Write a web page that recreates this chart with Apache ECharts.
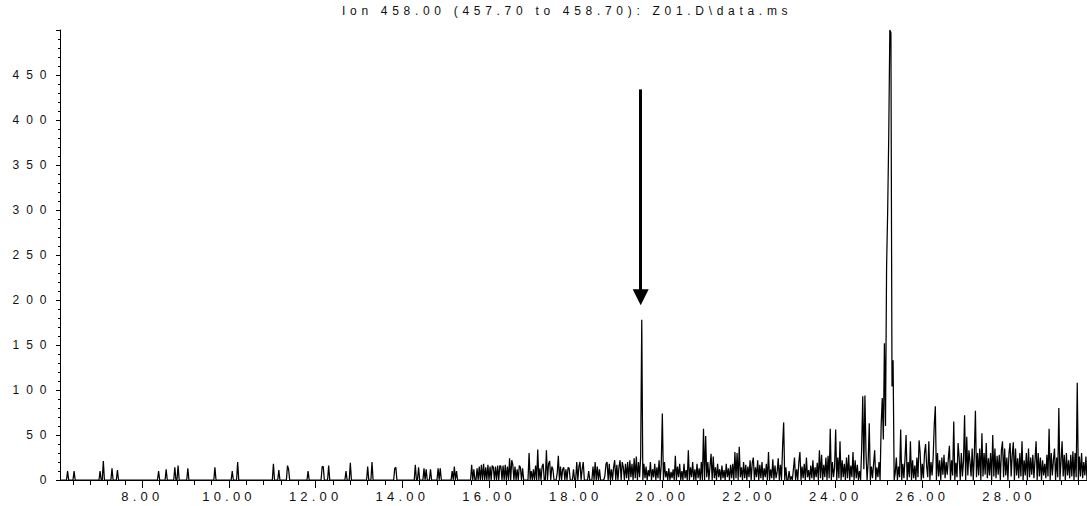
<!DOCTYPE html>
<html>
<head>
<meta charset="utf-8">
<title>Ion 458.00 chromatogram</title>
<script src="https://cdn.jsdelivr.net/npm/echarts@6/dist/echarts.min.js"></script>
<style>
  html, body { margin: 0; padding: 0; background: #fff; }
  #chart { width: 1087px; height: 506px; }
  /* widely tracked lettering, as on the instrument printout */
  #chart text[text-anchor="start"] { letter-spacing: 4.7px; }   /* title */
  #chart text[text-anchor="middle"] { letter-spacing: 4.2px; }  /* time labels */
  #chart text[text-anchor="end"] { letter-spacing: 7px; }       /* abundance labels */
</style>
</head>
<body>
<div id="chart"></div>
<script>
// Scan timing of the extracted ion trace (minutes)
const scanStart = 6.10;
const scanInterval = 0.025;

// Abundance per scan, one block of 40 scans (one minute) per array
const block06 = [0,0,0,0,0,0,0,10,0,0, 0,0,0,10,0,0,0,0,0,0, 0,0,0,0,0,0,0,0,0,0, 0,0,0,0,0,0,0,10,0,0];
const block07 = [21,0,0,0,0,0,0,0,13,0, 0,0,0,11,0,0,0,0,0,0, 0,0,0,0,0,0,0,0,0,0, 0,0,0,0,0,0,0,0,0,0];
const block08 = [0,0,0,0,0,0,0,0,0,0, 0,10,0,0,0,0,0,0,12,0, 0,0,0,0,0,0,14,0,0,16, 0,0,0,0,0,0,0,0,13,0];
const block09 = [0,0,0,0,0,0,0,0,0,0, 0,0,0,0,0,0,0,0,0,0, 0,0,0,14,0,0,0,0,0,0, 0,0,0,0,0,0,0,0,0,10];
const block10 = [0,0,0,0,20,0,0,0,0,0, 0,0,0,0,0,0,0,0,0,0, 0,0,0,0,0,0,0,0,0,0, 0,0,0,0,0,0,0,18,0,0];
const block11 = [0,0,11,0,0,0,0,0,0,0, 16,12,0,0,0,0,0,0,0,0, 0,0,0,0,0,0,0,0,0,10, 0,0,0,0,0,0,0,0,0,0];
const block12 = [0,0,15,15,0,0,0,0,16,0, 0,0,0,0,0,0,0,0,0,0, 0,0,0,0,10,0,0,0,19,0, 0,0,0,0,0,0,0,0,0,0];
const block13 = [0,0,0,0,15,0,0,0,20,0, 0,0,0,0,0,0,0,0,0,0, 0,0,0,0,0,0,0,0,0,13, 14,0,0,0,0,0,0,0,0,0];
const block14 = [0,0,0,0,0,0,0,0,17,0, 0,14,0,0,0,0,13,0,12,0, 0,0,12,0,0,0,0,0,0,13, 0,13,0,0,0,0,0,0,0,0];
const block15 = [0,0,10,0,15,0,10,0,0,0, 0,0,0,0,0,0,0,0,0,0, 17,0,12,0,0,13,0,15,0,17, 0,18,0,14,0,17,0,15,0,16];
const block16 = [14,0,15,0,16,0,16,15,0,16, 0,17,0,15,0,24,0,22,17,0, 15,0,12,0,16,14,0,13,0,0, 0,0,0,30,0,10,0,12,0,16];
const block17 = [0,34,0,13,0,15,18,0,0,33, 0,18,21,0,15,12,0,0,0,8, 27,0,15,0,12,14,0,12,0,14, 13,0,0,0,12,0,0,20,0,15];
const block18 = [20,0,12,20,0,0,0,0,10,0, 0,0,15,0,20,0,15,0,12,0, 0,0,0,5,18,20,0,18,0,12, 0,14,22,0,17,0,15,22,0,20];
const block19 = [14,0,18,2,20,0,22,3,18,0, 24,2,26,0,20,3,26,178,0,18, 2,15,0,11,4,20,0,12,3,18, 0,14,2,22,0,17,74,0,20,3];
const block20 = [10,0,13,0,9,2,12,0,27,0, 15,3,18,0,10,0,18,2,11,0, 33,0,14,3,20,0,12,0,18,2, 13,0,20,0,57,0,49,3,20,0];
const block21 = [15,29,0,26,2,14,0,18,3,12, 0,16,2,11,0,18,3,13,0,17, 2,18,0,31,2,30,0,37,3,14, 0,20,2,17,0,15,3,22,0,19];
const block22 = [25,0,14,3,22,0,17,2,20,0, 13,3,18,0,31,0,12,2,23,0, 16,2,9,24,0,17,0,37,64,0, 14,0,0,10,0,4,0,12,25,0];
const block23 = [12,0,20,31,0,15,2,18,0,25, 3,11,0,16,2,22,0,14,3,19, 0,33,2,28,0,17,3,25,0,27, 2,57,0,20,3,14,56,0,25,2];
const block24 = [43,0,22,3,18,0,25,2,28,0, 16,3,31,0,22,2,17,0,10,0, 35,93,12,94,30,0,20,63,0,15, 2,18,33,0,14,3,20,0,61,91];
const block25 = [45,152,60,237,298,383,500,497,104,133, 0,8,25,0,15,3,56,0,18,2, 24,50,0,20,3,43,0,22,2,16, 0,25,3,44,30,0,18,2,30,40];
const block26 = [15,3,43,0,20,5,25,61,82,0, 30,4,22,0,25,6,28,2,20,6, 24,38,0,22,5,65,0,19,3,41, 25,0,30,4,21,72,0,48,5,33];
const block27 = [20,4,35,0,28,77,3,30,5,35, 0,52,4,30,6,41,2,24,5,30, 0,50,4,35,2,27,6,28,0,33, 43,3,35,5,25,0,30,41,4,28];
const block28 = [42,0,35,5,24,2,30,4,43,0, 22,5,30,0,35,3,25,6,28,2, 22,43,0,30,4,25,0,22,5,18, 2,28,4,57,0,30,5,22,35,0];
const block29 = [25,3,80,0,20,43,4,28,0,30, 5,22,2,28,4,32,0,30,3,108, 0,26,4,30,2,20,5,26,0,22, 24];

// Axis ticks and labels
const timeLabels = [8, 10, 12, 14, 16, 18, 20, 22, 24, 26, 28];
const minorTimeTicks = [6.4, 6.8, 7.2, 7.6, 8.4, 8.8, 9.2, 9.6, 10.4, 10.8, 11.2, 11.6,
  12.4, 12.8, 13.2, 13.6, 14.4, 14.8, 15.2, 15.6, 16.4, 16.8, 17.2, 17.6,
  18.4, 18.8, 19.2, 19.6, 20.4, 20.8, 21.2, 21.6, 22.4, 22.8, 23.2, 23.6,
  24.4, 24.8, 25.2, 25.6, 26.4, 26.8, 27.2, 27.6, 28.4, 28.8, 29.2, 29.6];
const abundanceLabels = [0, 50, 100, 150, 200, 250, 300, 350, 400, 450];

// Arrow pointing at the peak near 19.5 min (time, top abundance, head abundance)
const arrowTime = 19.50;
const arrowTop = 434;
const arrowHead = 203;

const titleText = 'Ion 458.00 (457.70 to 458.70): Z01.D\\data.ms';
const fontFamily = '"Liberation Sans", Arial, sans-serif';

const abundance = [].concat(block06, block07, block08, block09, block10, block11,
  block12, block13, block14, block15, block16, block17, block18, block19, block20,
  block21, block22, block23, block24, block25, block26, block27, block28, block29);
const trace = abundance.map((v, i) => [+(scanStart + i * scanInterval).toFixed(3), v]);

const chart = echarts.init(document.getElementById('chart'), null, { renderer: 'svg' });

const xRange = { min: 6.1, max: 29.8 };

chart.setOption({
  animation: false,
  backgroundColor: '#fff',
  title: {
    text: titleText,
    left: 342,
    top: 5,
    padding: 0,
    textStyle: { fontSize: 12, fontWeight: 'normal', color: '#111', fontFamily }
  },
  grid: {
    left: 60, right: 0, top: 30, bottom: 26,
    containLabel: false,
    outerBoundsMode: 'none'
  },
  xAxis: [
    {
      type: 'value', position: 'bottom', min: xRange.min, max: xRange.max,
      axisLine: { show: true, onZero: false, lineStyle: { color: '#000', width: 1 } },
      axisTick: { show: true, length: 8, customValues: timeLabels, lineStyle: { color: '#000' } },
      axisLabel: {
        customValues: timeLabels,
        formatter: v => v.toFixed(2),
        margin: 10, fontSize: 13, color: '#111', fontFamily
      },
      splitLine: { show: false }
    },
    {
      type: 'value', position: 'bottom', min: xRange.min, max: xRange.max,
      axisLine: { show: false, onZero: false },
      axisTick: { show: true, length: 5, customValues: minorTimeTicks, lineStyle: { color: '#000' } },
      axisLabel: { show: false },
      splitLine: { show: false }
    }
  ],
  yAxis: {
    type: 'value', min: 0, max: 500, interval: 50,
    axisLine: { show: true, lineStyle: { color: '#000', width: 1 } },
    axisTick: { show: true, length: 4, lineStyle: { color: '#000' } },
    minorTick: { show: true, splitNumber: 5, length: 2, lineStyle: { color: '#000' } },
    axisLabel: {
      customValues: abundanceLabels,
      margin: 6.5, fontSize: 12, color: '#111', fontFamily
    },
    splitLine: { show: false }
  },
  series: [{
    type: 'line',
    data: trace,
    xAxisIndex: 0,
    yAxisIndex: 0,
    symbol: 'none',
    showSymbol: false,
    silent: true,
    clip: true,
    lineStyle: { color: '#000', width: 1.25 },
    markLine: {
      silent: true,
      symbol: ['none', 'triangle'],
      symbolSize: 16,
      label: { show: false },
      lineStyle: { color: '#000', width: 3, type: 'solid' },
      itemStyle: { color: '#000' },
      data: [[{ coord: [arrowTime, arrowTop] }, { coord: [arrowTime, arrowHead] }]]
    }
  }]
});
</script>
</body>
</html>
